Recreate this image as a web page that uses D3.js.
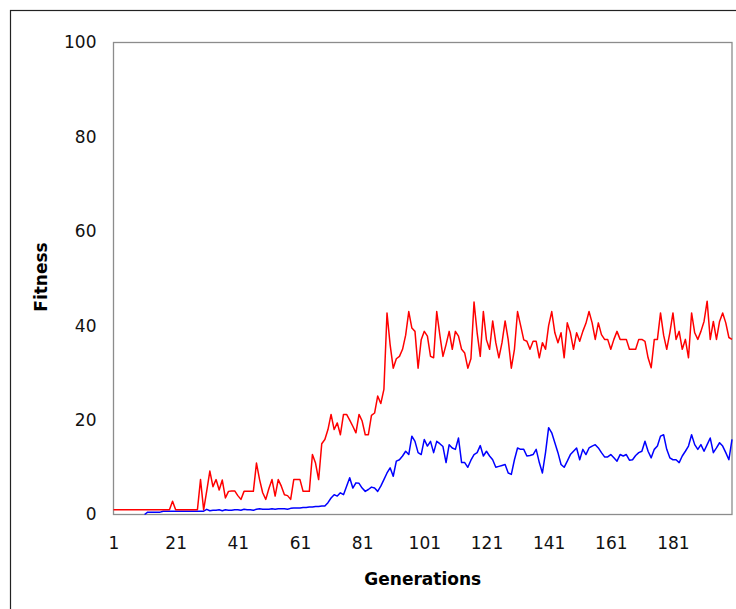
<!DOCTYPE html>
<html>
<head>
<meta charset="utf-8">
<script src="https://cdn.jsdelivr.net/npm/d3@7"></script>
<style>
  html, body { margin: 0; padding: 0; background: #fff; }
  svg { display: block; }
  text { font-family: "DejaVu Sans", Verdana, sans-serif; }
</style>
</head>
<body>
<div id="chart"></div>
<script>
// Generations 1..200
const xTickLabels = [1, 21, 41, 61, 81, 101, 121, 141, 161, 181];
const yTickLabels = [0, 20, 40, 60, 80, 100];

// Red series (best fitness)
const redSeries = [
  1,1,1,1,1,1,1,1,1,1,
  1,1,1,1,1,1,1,1,1,2.8,
  1,1,1,1,1,1,1,1,7.4,1,
  5,9.2,5.9,7.4,5.2,7.3,3.5,4.9,5,5,
  4,3.2,4.9,4.9,4.9,4.9,10.9,7.4,4.6,3.2,
  5.5,7.4,3.9,7.4,6,4.2,4,3.2,7.4,7.4,
  7.4,4.9,4.9,4.9,12.7,10.9,7.4,15,15.9,18,
  21.2,18,19.4,16.9,21.2,21.2,20,18.7,17.3,21.2,
  19.8,16.9,16.9,21,21.5,25.1,23.5,26.5,42.7,36,
  31,33,33.5,35,38,43,39.5,38.8,31,37,
  38.8,37.8,33.5,33.2,43,38,33.5,36,38.8,35,
  38.8,37.8,35,34.2,31,33,45,38.5,33.5,43,
  37,35,41,36.4,33.2,36.4,41,37,31,35,
  43,40,37,36.7,35,36.7,36.7,33.2,36.4,35,
  40,43,38.5,36.4,38.5,33.2,40.6,38.5,35,38.5,
  36.7,38.8,40.5,43,40.6,37.1,40.6,38.1,37.1,37.1,
  35,37.1,38.8,37.1,37.1,37.1,35,35,35,37.1,
  37.1,36.7,33.2,31.1,37.1,37.1,42.7,38,35,38.5,
  42.7,37.1,38.8,35,37.1,33.2,42.7,38.5,37.1,38.8,
  40.9,45.2,37.1,40.9,37.1,40.9,42.7,40.6,37.5,37.1
];

// Blue series (average fitness); no values before generation 11
const blueSeries = [
  null,null,null,null,null,null,null,null,null,null,
  0,0.5,0.5,0.5,0.5,0.5,0.7,0.7,0.7,0.7,
  0.7,0.7,0.7,0.7,0.7,0.7,0.7,0.7,0.7,0.7,
  1.1,0.8,0.9,0.9,1,0.8,1,0.9,0.9,1,
  1,0.9,1.1,1,1,0.9,1.1,1.2,1.1,1.1,
  1.1,1.2,1.1,1.2,1.2,1.2,1.1,1.3,1.4,1.4,
  1.4,1.5,1.5,1.6,1.6,1.7,1.7,1.8,1.8,2.5,
  3.5,4.2,3.9,4.6,4.2,6,7.8,5.6,6.7,6.6,
  5.6,4.9,5.3,5.8,5.6,4.9,6,7.4,8.8,9.9,
  8.1,11.3,11.6,12.4,13.4,12.7,16.6,15.5,13.1,12.7,
  15.9,14.5,15.5,13.1,15.5,15,14.4,11,14.8,14.1,
  13.8,16.2,11,11,10,11.5,12.7,13.1,14.6,12.4,
  13.4,12.4,11.6,10,10.2,10.4,10.6,8.8,8.5,11.6,
  14.1,13.8,13.8,12.4,12.5,12.7,13.8,11,8.8,13.1,
  18.4,17.3,15.2,13.1,10.6,10,11.3,12.7,13.4,14.1,
  11.6,13.8,12.7,14.1,14.5,14.8,14.1,13.1,12.2,12.2,
  12.7,12,11.3,12.7,12.4,12.7,11.5,11.6,12.5,13.1,
  13.4,15.5,13.4,12,13.8,14.5,16.6,16.9,13.8,12,
  11.6,11.6,11,12.4,13.4,14.5,16.9,14.8,13.8,14.8,
  13.4,14.8,16.2,13.1,14.1,15.2,14.5,13.1,11.6,15.9
];

const generations = d3.range(1, redSeries.length + 1);

const W = 736, H = 609;
const plot = { left: 113.5, top: 42.5, right: 732, bottom: 514.5 };

const svg = d3.select("#chart").append("svg")
  .attr("width", W).attr("height", H);

// outer chart border (extends past the window on right/bottom)
svg.append("rect")
  .attr("x", 10.5).attr("y", 10.5)
  .attr("width", 900).attr("height", 900)
  .attr("fill", "#fff").attr("stroke", "#222").attr("stroke-width", 1.2);

const x = d3.scaleLinear().domain([1, 200]).range([plot.left, plot.right]);
const y = d3.scaleLinear().domain([0, 100]).range([plot.bottom, plot.top]);

// plot area
svg.append("rect")
  .attr("x", plot.left).attr("y", plot.top)
  .attr("width", plot.right - plot.left).attr("height", plot.bottom - plot.top)
  .attr("fill", "#fff").attr("stroke", "#8c8c8c").attr("stroke-width", 1.3);

const lineGen = d3.line()
  .defined(d => d.v !== null)
  .x(d => x(d.g))
  .y(d => y(d.v));

svg.append("path")
  .datum(generations.map((g, i) => ({ g, v: blueSeries[i] })))
  .attr("fill", "none").attr("stroke", "#0000ff").attr("stroke-width", 1.5)
  .attr("stroke-linejoin", "round")
  .attr("d", lineGen);

svg.append("path")
  .datum(generations.map((g, i) => ({ g, v: redSeries[i] })))
  .attr("fill", "none").attr("stroke", "#ff0000").attr("stroke-width", 1.5)
  .attr("stroke-linejoin", "round")
  .attr("d", lineGen);

// axes
const xAxis = svg.append("g")
  .attr("transform", `translate(0,${plot.bottom})`)
  .call(d3.axisBottom(x).tickValues(xTickLabels).tickSize(0).tickPadding(22).tickFormat(d3.format("d")));
xAxis.select(".domain").remove();
xAxis.selectAll("text").attr("font-size", 17).attr("fill", "#111")
  .style("font-family", '"DejaVu Sans", Verdana, sans-serif');

const yAxis = svg.append("g")
  .attr("transform", `translate(${plot.left},0)`)
  .call(d3.axisLeft(y).tickValues(yTickLabels).tickSize(0).tickPadding(17).tickFormat(d3.format("d")));
yAxis.select(".domain").remove();
yAxis.selectAll("text").attr("font-size", 17).attr("fill", "#111")
  .style("font-family", '"DejaVu Sans", Verdana, sans-serif');

// axis titles
svg.append("text")
  .attr("x", (plot.left + plot.right) / 2).attr("y", 585)
  .attr("text-anchor", "middle")
  .attr("font-size", 17).attr("font-weight", "bold").attr("fill", "#000")
  .text("Generations");

svg.append("text")
  .attr("transform", `translate(47,${277}) rotate(-90)`)
  .attr("text-anchor", "middle")
  .attr("font-size", 17).attr("font-weight", "bold").attr("fill", "#000")
  .text("Fitness");
</script>
</body>
</html>
